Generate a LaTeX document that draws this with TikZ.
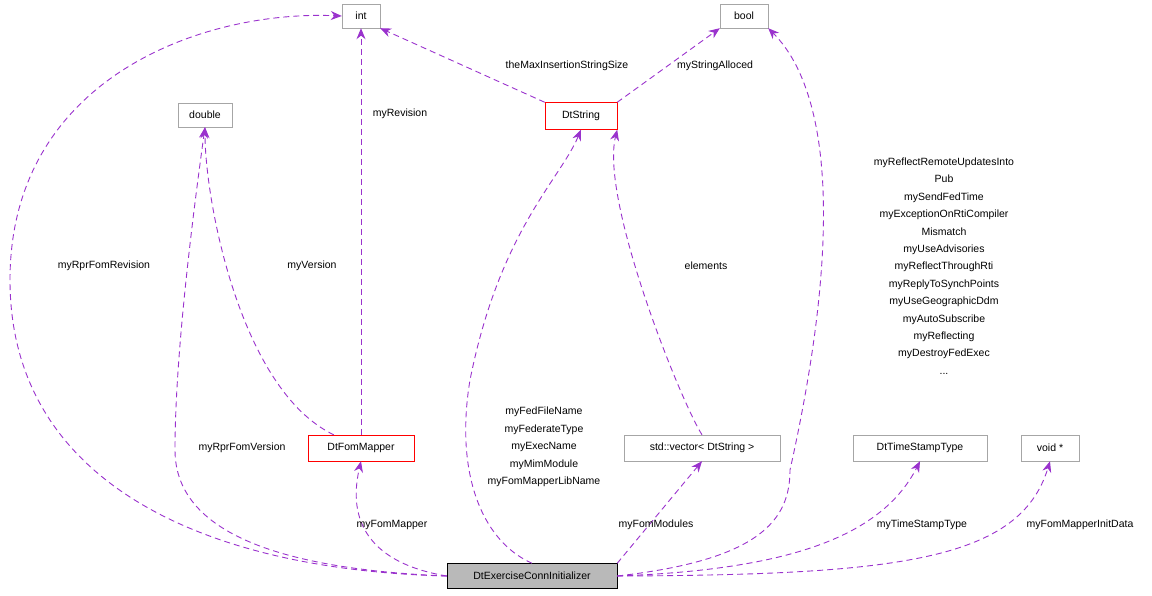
\documentclass[tikz,border=0pt]{standalone}
\usepackage{fontspec}
\setmainfont{Liberation Sans}
\usetikzlibrary{arrows.meta}
\definecolor{edgepurple}{RGB}{154,50,205}
\tikzset{
  cls/.style={draw=gray!70, inner sep=0pt, minimum height=24pt, font=\fontsize{10.5}{12}\selectfont, fill=white},
  redcls/.style={cls, draw=red},
  uses/.style={draw=edgepurple, line width=0.9pt, dash pattern=on 6pt off 4pt, -{Stealth[length=11pt,width=9pt]}},
  lbl/.style={font=\fontsize{10.5}{17.4}\selectfont, align=center}
}
\begin{document}
\begin{tikzpicture}[x=1pt,y=-1pt]
  \useasboundingbox (0,0) rectangle (1152,595);
  % classes
  \node[cls, minimum width=38pt] (int) at (361,16) {int};
  \node[cls, minimum width=48pt] (bool) at (744,16) {bool};
  \node[cls, minimum width=54pt] (double) at (205,115) {double};
  \node[redcls, minimum width=72pt, minimum height=27pt] (dtstring) at (581,116) {DtString};
  \node[redcls, minimum width=106pt, minimum height=26pt] (fommapper) at (361,448) {DtFomMapper};
  \node[cls, minimum width=156pt, minimum height=26pt] (vector) at (702,448) {std::vector< DtString >};
  \node[cls, minimum width=134pt, minimum height=26pt] (stamp) at (920,448) {DtTimeStampType};
  \node[cls, minimum width=58pt, minimum height=26pt] (voidp) at (1050,448) {void *};
  \node[cls, draw=black, fill=gray!55, minimum width=170pt, minimum height=25pt] (main) at (532,576) {DtExerciseConnInitializer};

  % connectors
  \draw[uses] (dtstring.north west) -- (int.south east);
  \draw[uses] (dtstring.north east) -- (bool.south west);
  \draw[uses] (fommapper.north) -- (int.south);
  \draw[uses] (fommapper.north west) ++(26,0) .. controls (240,390) and (205,200) .. (double.south);
  \draw[uses] (main.west) .. controls (200,570) and (10,480) .. (10,280) .. controls (10,80) and (200,10) .. (int.west);
  \draw[uses] (main.west) .. controls (300,570) and (175,540) .. (175,450) .. controls (175,350) and (195,200) .. (double.south);
  \draw[uses] (main.west) .. controls (380,565) and (345,530) .. (fommapper.south);
  \draw[uses] (main.north) .. controls (480,540) and (455,470) .. (470,380) .. controls (500,230) and (560,180) .. (dtstring.south);
  \draw[uses] (main.north east) -- (vector.south);
  \draw[uses] (vector.north) .. controls (680,400) and (600,200) .. (dtstring.south east);
  \draw[uses] (main.east) .. controls (760,560) and (790,520) .. (790,470) .. controls (850,200) and (820,80) .. (bool.south east);
  \draw[uses] (main.east) .. controls (780,570) and (880,540) .. (stamp.south);
  \draw[uses] (main.east) .. controls (900,575) and (1020,560) .. (voidp.south);

  % labels
  \node[lbl] (l1) at (567,66) {theMaxInsertionStringSize};
  \node[lbl] (l2) at (715,66) {myStringAlloced};
  \node[lbl] (l3) at (400,114) {myRevision};
  \node[lbl] (l4) at (312,266) {myVersion};
  \node[lbl] (l5) at (104,266) {myRprFomRevision};
  \node[lbl] (l6) at (242,448) {myRprFomVersion};
  \node[lbl] (l7) at (392,525) {myFomMapper};
  \node[lbl] (l8) at (544,447) {myFedFileName\\myFederateType\\myExecName\\myMimModule\\myFomMapperLibName};
  \node[lbl] (l9) at (656,525) {myFomModules};
  \node[lbl] (l10) at (706,266) {elements};
  \node[lbl] (l11) at (944,266) {myReflectRemoteUpdatesInto\\Pub\\mySendFedTime\\myExceptionOnRtiCompiler\\Mismatch\\myUseAdvisories\\myReflectThroughRti\\myReplyToSynchPoints\\myUseGeographicDdm\\myAutoSubscribe\\myReflecting\\myDestroyFedExec\\...};
  \node[lbl] (l12) at (922,525) {myTimeStampType};
  \node[lbl] (l13) at (1080,525) {myFomMapperInitData};
\end{tikzpicture}
\end{document}
